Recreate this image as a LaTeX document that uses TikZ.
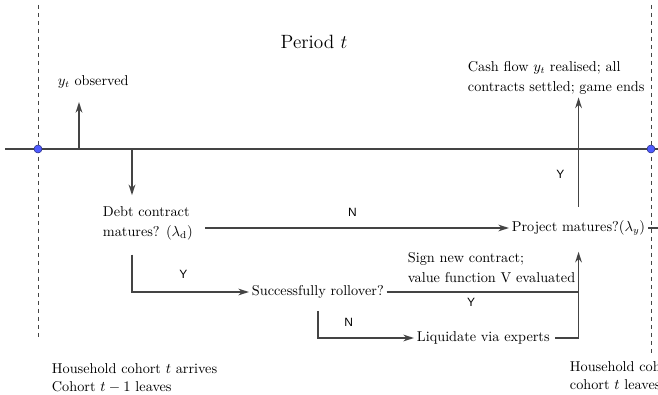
\documentclass[tikz,border=0pt]{standalone}
\usepackage{fontspec}
\newfontfamily\ynfont{Liberation Sans}
\usepackage{amsmath}
\usepackage{tikz}
\usetikzlibrary{arrows.meta,positioning}
\definecolor{linegray}{HTML}{444444}
\definecolor{dotblue}{HTML}{4F5BFF}

\begin{document}
\begin{tikzpicture}[
			x = 0.75pt, y = -0.75pt,
			every node/.style = {inner sep=2pt, text=black},
			line/.style = {linegray, line width=1.4pt},
			arr/.style = {line, -{Stealth[length=8pt,width=5pt]}},
			txt/.style = {align=left, anchor=west, font=\fontsize{10.7}{15}\selectfont},
			yn/.style = {font=\ynfont\small},
			dot/.style = {circle, fill=dotblue, draw=dotblue!50!black, line width=0.4pt, inner sep=0pt, minimum size=6pt}
			]

			\clip (0,0) rectangle (658,395);

			\draw[linegray, dashed, thin] (38,5) -- (38,340);
			\draw[linegray, dashed, thin] (651,5) -- (651,355);
			\draw[line] (5,149) -- (658,149);
			\node[dot] (start) at (38,149) {};
			\node[dot] (end) at (651,149) {};
			\node[font=\Large] (period) at (314,42) {Period $t$};

			\coordinate (ev1) at (79,149);
			\coordinate (ev2) at (132,149);

			\node[txt] (obs) at (55,82) {$y_t$ observed};
			\node[txt] (cash) at (465,78) {Cash flow $y_t$ realised; all\\contracts settled; game ends};
			\node[txt] (debt) at (100,223) {Debt contract\\matures? $(\lambda_{\text{d}})$};
			\node[txt] (proj) at (509,228) {Project matures?$(\lambda_y)$};
			\node[txt] (roll) at (249,292) {Successfully rollover?};
			\node[txt] (sign) at (405,268) {Sign new contract;\\value function V evaluated};
			\node[txt] (liq) at (414,338) {Liquidate via experts};
			\node[txt, font=\fontsize{10.7}{13.5}\selectfont] (arrive) at (49,378) {Household cohort $t$ arrives\\Cohort $t-1$ leaves};
			\node[txt, font=\fontsize{10.7}{13.5}\selectfont] (arrivenext) at (567,376) {Household cohort $t+1$ arrives\\cohort $t$ leaves};

			\coordinate (join) at (proj.south |- roll.east);

			\draw[arr, shorten >=8pt] (ev1) -- (ev1 |- obs.south);
			\draw[arr, shorten >=6pt] (ev2) -- (ev2 |- debt.north);

			\draw[arr, shorten <=7pt] (debt.east |- proj.west) -- (proj.west) node[yn, midway, above=6pt]{N};
			\draw[line] (proj.east) -- ++(20,0);
			\draw[arr, shorten <=8pt] (proj.north) -- (proj.north |- cash.south) node[yn, pos=0.36, left=8pt]{Y};

			\draw[arr, shorten <=9pt] (ev2 |- debt.south) |- (roll.west) node[yn, pos=0.72, above=7.5pt]{Y};
			\draw[arr, shorten >=10pt] (roll.east) -| (proj.south) node[yn, pos=0.22, below=2pt]{Y};
			\draw[arr, shorten <=7pt] (roll.south) |- (liq.west) node[yn, pos=0.66, above=6pt]{N};
			\draw[line, shorten <=2pt] (liq.east) -| (join);

		\end{tikzpicture}
\end{document}
